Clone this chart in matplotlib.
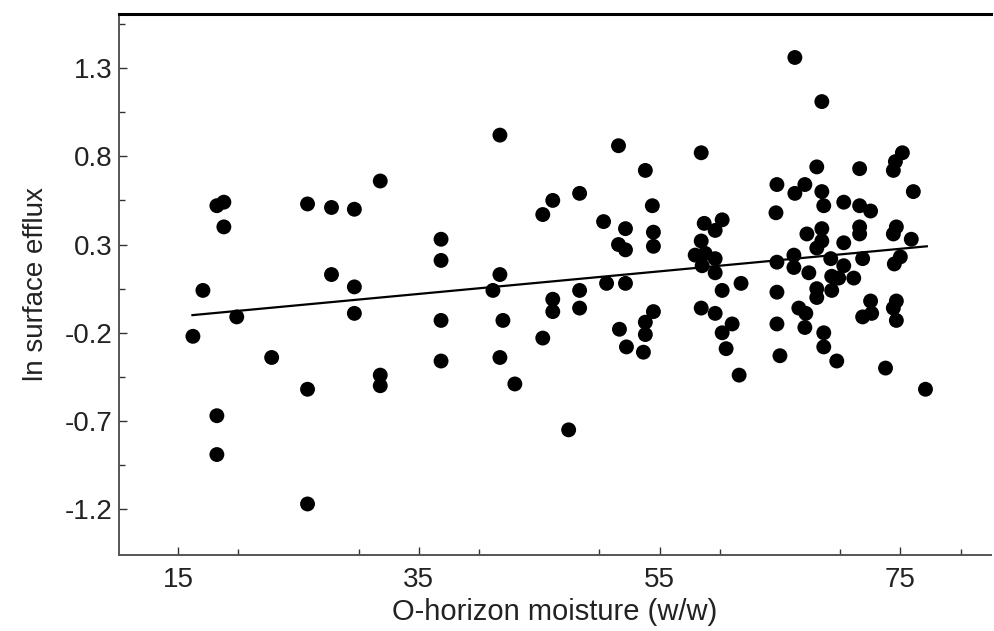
import matplotlib
matplotlib.use("Agg")
import matplotlib.pyplot as plt
from matplotlib.ticker import MultipleLocator, FixedLocator

plt.rcParams["font.family"] = ["Liberation Sans", "DejaVu Sans"]

# O-horizon moisture (w/w)
moisture = [
    16.24, 17.07, 18.23, 18.81, 18.81, 19.88, 18.23, 18.23, 22.78, 25.76,
    25.76, 25.76, 27.75, 27.75, 29.65, 29.65, 29.65, 31.80, 31.80, 31.80,
    36.85, 36.85, 36.85, 36.85, 41.74, 41.74, 41.16, 41.99, 41.74, 42.98,
    45.30, 46.13, 46.13, 46.13, 45.30, 48.36, 48.36, 48.36, 47.45, 50.35,
    50.60, 51.59, 51.59, 52.17, 52.17, 52.17, 51.67, 52.25, 53.82, 54.40,
    54.49, 54.49, 53.82, 53.82, 53.66, 54.49, 58.46, 58.71, 58.46, 57.96,
    58.79, 58.54, 58.46, 59.62, 60.20, 59.62, 59.62, 59.62, 60.20, 61.77,
    61.03, 60.20, 60.53, 61.61, 64.75, 64.67, 64.75, 64.75, 64.75, 65.00,
    66.24, 66.24, 67.07, 66.16, 66.16, 66.57, 67.15, 67.07, 67.24, 67.40,
    68.06, 68.48, 68.48, 68.64, 68.48, 68.48, 68.06, 68.06, 68.06, 68.64,
    68.64, 69.72, 69.22, 69.30, 69.30, 69.88, 70.30, 70.30, 70.30, 71.13,
    71.62, 71.62, 71.62, 71.62, 71.87, 72.53, 72.53, 71.87, 72.62, 73.77,
    75.17, 74.59, 74.42, 76.08, 74.67, 74.42, 75.91, 75.00, 74.50, 74.67,
    74.42, 74.67, 77.09,
]

# ln surface efflux
efflux = [
    -0.22, 0.04, 0.52, 0.54, 0.40, -0.11, -0.67, -0.89, -0.34, 0.53,
    -0.52, -1.17, 0.51, 0.13, 0.50, 0.06, -0.09, 0.66, -0.44, -0.50,
    0.33, 0.21, -0.13, -0.36, 0.92, 0.13, 0.04, -0.13, -0.34, -0.49,
    0.47, 0.55, -0.01, -0.08, -0.23, 0.59, 0.04, -0.06, -0.75, 0.43,
    0.08, 0.86, 0.30, 0.39, 0.27, 0.08, -0.18, -0.28, 0.72, 0.52,
    0.37, 0.29, -0.14, -0.21, -0.31, -0.08, 0.82, 0.42, 0.32, 0.24,
    0.25, 0.18, -0.06, -0.09, 0.44, 0.38, 0.22, 0.14, 0.04, 0.08,
    -0.15, -0.20, -0.29, -0.44, 0.64, 0.48, 0.20, 0.03, -0.15, -0.33,
    1.36, 0.59, 0.64, 0.24, 0.17, -0.06, -0.09, -0.17, 0.36, 0.14,
    0.74, 1.11, 0.60, 0.52, 0.39, 0.32, 0.28, 0.05, 0.00, -0.20,
    -0.28, -0.36, 0.22, 0.12, 0.04, 0.11, 0.54, 0.31, 0.18, 0.11,
    0.73, 0.52, 0.40, 0.36, 0.22, 0.49, -0.02, -0.11, -0.09, -0.40,
    0.82, 0.77, 0.72, 0.60, 0.40, 0.36, 0.33, 0.23, 0.19, -0.02,
    -0.06, -0.13, -0.52,
]

# fitted line end points
fit_x = [16.2, 77.2]
fit_y = [-0.10, 0.29]

x_ticks = [15, 35, 55, 75]
y_ticks = [-1.2, -0.7, -0.2, 0.3, 0.8, 1.3]

fig = plt.figure(figsize=(9.95, 6.31), dpi=100)
ax = fig.add_axes([0.1196, 0.1205, 0.876, 0.8575])

ax.scatter(moisture, efflux, s=115, color="black", edgecolors="none", zorder=3)
ax.plot(fit_x, fit_y, color="black", linewidth=1.6, zorder=2)

ax.set_xlim(10.1, 82.5)
ax.set_ylim(-1.459, 1.607)

ax.xaxis.set_major_locator(FixedLocator(x_ticks))
ax.xaxis.set_minor_locator(MultipleLocator(10))
ax.yaxis.set_major_locator(FixedLocator(y_ticks))
ax.yaxis.set_minor_locator(FixedLocator([-0.95, -0.45, 0.05, 0.55, 1.05, 1.55]))
ax.set_xticklabels([str(t) for t in x_ticks])
ax.set_yticklabels([f"{t:.1f}" for t in y_ticks])

ax.tick_params(which="major", direction="in", length=6, width=1, color="#333333",
               labelsize=20, labelcolor="#222222")
ax.tick_params(axis="x", which="major", pad=9)
ax.tick_params(axis="y", which="major", pad=5)
ax.tick_params(which="minor", direction="in", length=4, width=1, color="#333333")

ax.spines["right"].set_visible(False)
ax.spines["top"].set_linewidth(2.2)
ax.spines["top"].set_color("black")
for side in ["left", "bottom"]:
    ax.spines[side].set_linewidth(1.4)
    ax.spines[side].set_color("#555555")

ax.set_xlabel("O-horizon moisture (w/w)", fontsize=21, color="#222222", labelpad=3)
ax.set_ylabel("ln surface efflux", fontsize=20, color="#222222", labelpad=11)

fig.savefig("out.png", dpi=100, facecolor="white")
